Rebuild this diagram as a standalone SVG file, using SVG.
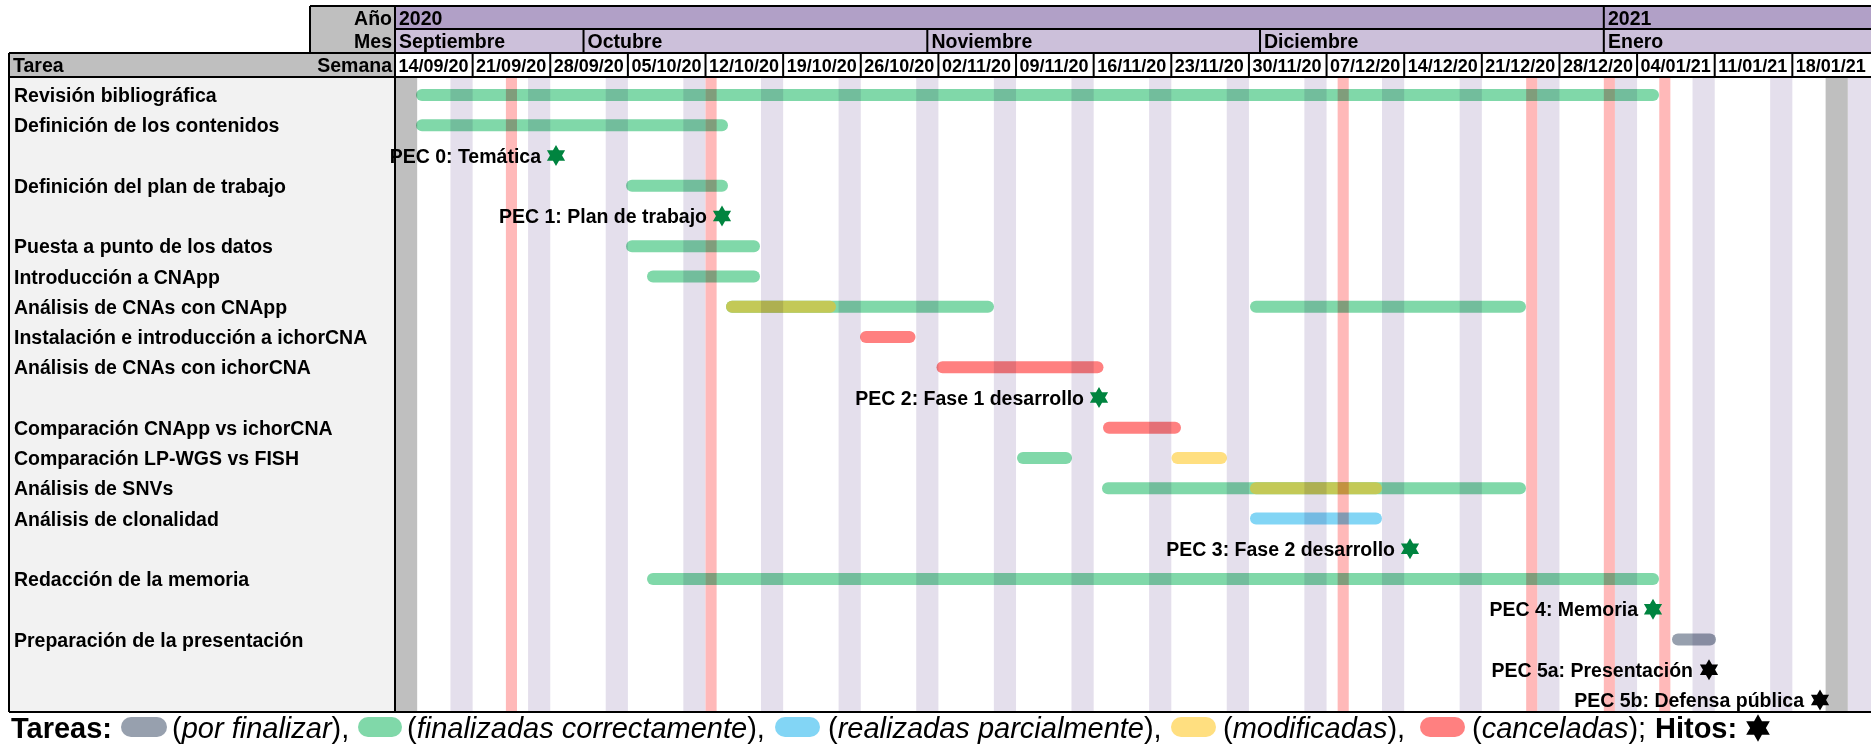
<svg xmlns="http://www.w3.org/2000/svg" xmlns:xlink="http://www.w3.org/1999/xlink" width="1871" height="748" viewBox="0 0 1871 748">
<style>
text{font-family:"Liberation Sans",Arial,sans-serif;fill:#000}
.b{font-weight:bold;font-size:19.5px}
.wk{font-weight:bold;font-size:18px}
.end{text-anchor:end}
.leg{font-size:29px}
.legb{font-size:29px;font-weight:bold}
.it{font-style:italic}
.ln{stroke:#000;stroke-width:2;fill:none}
.lav{fill:#E4DFEC}
.hol{fill:#FFB9B9}
.gcol{fill:#BFBFBF}
.bars{mix-blend-mode:multiply}
.green{fill:#80D8A9}
.olive{fill:#C3C957}
.red{fill:#FF8080}
.yellow{fill:#FFDF80}
.blue{fill:#82D5F5}
.grey{fill:#97A0AE}
.done{fill:#00843F}
.todo{fill:#000}
</style>
<defs>
<path id="star" d="M0,-10.5 L3.03,-5.25 L9.09,-5.25 L6.06,0 L9.09,5.25 L3.03,5.25 L0,10.5 L-3.03,5.25 L-9.09,5.25 L-6.06,0 L-9.09,-5.25 L-3.03,-5.25Z"/>
</defs>
<rect x="0" y="0" width="1871" height="748" fill="#fff"/>

<g id="background">
<rect x="9" y="77" width="386" height="635" fill="#F2F2F2"/>
<rect x="395" y="77" width="1476" height="635" fill="#fff"/>
<g class="lav">
<rect x="450.45" y="77" width="22.18" height="635"/>
<rect x="528.08" y="77" width="22.18" height="635"/>
<rect x="605.71" y="77" width="22.18" height="635"/>
<rect x="683.34" y="77" width="22.18" height="635"/>
<rect x="760.97" y="77" width="22.18" height="635"/>
<rect x="838.60" y="77" width="22.18" height="635"/>
<rect x="916.23" y="77" width="22.18" height="635"/>
<rect x="993.86" y="77" width="22.18" height="635"/>
<rect x="1071.49" y="77" width="22.18" height="635"/>
<rect x="1149.12" y="77" width="22.18" height="635"/>
<rect x="1226.75" y="77" width="22.18" height="635"/>
<rect x="1304.38" y="77" width="22.18" height="635"/>
<rect x="1382.01" y="77" width="22.18" height="635"/>
<rect x="1459.64" y="77" width="22.18" height="635"/>
<rect x="1537.27" y="77" width="22.18" height="635"/>
<rect x="1614.90" y="77" width="22.18" height="635"/>
<rect x="1692.53" y="77" width="22.18" height="635"/>
<rect x="1770.16" y="77" width="22.18" height="635"/>
<rect x="1847.79" y="77" width="23.21" height="635"/>
</g>
<g class="hol">
<rect x="505.9" y="77" width="11.09" height="635"/>
<rect x="705.52" y="77" width="11.09" height="635"/>
<rect x="1337.65" y="77" width="11.09" height="635"/>
<rect x="1526.18" y="77" width="11.09" height="635"/>
<rect x="1603.81" y="77" width="11.09" height="635"/>
<rect x="1659.26" y="77" width="11.09" height="635"/>
</g>
<g class="gcol">
<rect x="395" y="77" width="22.18" height="635"/>
<rect x="1825.61" y="77" width="22.18" height="635"/>
</g>
</g>

<g id="header">
<rect x="310" y="6" width="85" height="47" fill="#BFBFBF"/>
<rect x="9" y="53" width="386" height="24" fill="#BFBFBF"/>
<rect x="395" y="6" width="1476" height="23" fill="#B1A0C7"/>
<rect x="395" y="29" width="1476" height="24" fill="#CCC0DA"/>
<rect x="395" y="53" width="1476" height="24" fill="#fff"/>
<path class="ln" d="M310,6 H1871 M395,29 H1871 M9,53 H1871 M9,77 H1871 M9,712 H1871 M310,6 V53 M9,53 V712 M395,6 V712 M1603.81,6 V53 M583.53,29 V53 M927.32,29 V53 M1260.02,29 V53"/>
<path class="ln" d="M472.63,53 V77 M550.26,53 V77 M627.89,53 V77 M705.52,53 V77 M783.15,53 V77 M860.78,53 V77 M938.41,53 V77 M1016.04,53 V77 M1093.67,53 V77 M1171.30,53 V77 M1248.93,53 V77 M1326.56,53 V77 M1404.19,53 V77 M1481.82,53 V77 M1559.45,53 V77 M1637.08,53 V77 M1714.71,53 V77 M1792.34,53 V77"/>
<text class="b end" x="392" y="24.5">Año</text>
<text class="b end" x="392" y="48">Mes</text>
<text class="b" x="13" y="72">Tarea</text>
<text class="b end" x="392" y="72">Semana</text>
<text class="b" x="399" y="24.5">2020</text>
<text class="b" x="1608" y="24.5">2021</text>
<text class="b" x="399" y="48">Septiembre</text>
<text class="b" x="587.5" y="48">Octubre</text>
<text class="b" x="931.5" y="48">Noviembre</text>
<text class="b" x="1264" y="48">Diciembre</text>
<text class="b" x="1608" y="48">Enero</text>
<g class="wk">
<text class="wk" x="398.5" y="71.5">14/09/20</text>
<text class="wk" x="476.1" y="71.5">21/09/20</text>
<text class="wk" x="553.8" y="71.5">28/09/20</text>
<text class="wk" x="631.4" y="71.5">05/10/20</text>
<text class="wk" x="709" y="71.5">12/10/20</text>
<text class="wk" x="786.7" y="71.5">19/10/20</text>
<text class="wk" x="864.3" y="71.5">26/10/20</text>
<text class="wk" x="941.9" y="71.5">02/11/20</text>
<text class="wk" x="1019.5" y="71.5">09/11/20</text>
<text class="wk" x="1097.2" y="71.5">16/11/20</text>
<text class="wk" x="1174.8" y="71.5">23/11/20</text>
<text class="wk" x="1252.4" y="71.5">30/11/20</text>
<text class="wk" x="1330.1" y="71.5">07/12/20</text>
<text class="wk" x="1407.7" y="71.5">14/12/20</text>
<text class="wk" x="1485.3" y="71.5">21/12/20</text>
<text class="wk" x="1563" y="71.5">28/12/20</text>
<text class="wk" x="1640.6" y="71.5">04/01/21</text>
<text class="wk" x="1718.2" y="71.5">11/01/21</text>
<text class="wk" x="1795.8" y="71.5">18/01/21</text>
</g>
</g>

<g id="task-revision">
<text class="b" x="14" y="102">Revisión bibliográfica</text>
<g class="bars"><rect class="green" x="416" y="89" width="1243" height="12" rx="6"/></g>
</g>
<g id="task-contenidos">
<text class="b" x="14" y="132.25">Definición de los contenidos</text>
<g class="bars"><rect class="green" x="416" y="119.25" width="312" height="12" rx="6"/></g>
</g>
<g id="milestone-pec0">
<text class="b end" x="541" y="162.5">PEC 0: Temática</text>
<use xlink:href="#star" href="#star" x="556" y="155.5" class="done"/>
</g>
<g id="task-plan">
<text class="b" x="14" y="192.75">Definición del plan de trabajo</text>
<g class="bars"><rect class="green" x="626" y="179.75" width="102" height="12" rx="6"/></g>
</g>
<g id="milestone-pec1">
<text class="b end" x="707" y="223">PEC 1: Plan de trabajo</text>
<use xlink:href="#star" href="#star" x="722" y="216" class="done"/>
</g>
<g id="task-puesta">
<text class="b" x="14" y="253.25">Puesta a punto de los datos</text>
<g class="bars"><rect class="green" x="626" y="240.25" width="134" height="12" rx="6"/></g>
</g>
<g id="task-intro-cnapp">
<text class="b" x="14" y="283.5">Introducción a CNApp</text>
<g class="bars"><rect class="green" x="647" y="270.5" width="113" height="12" rx="6"/></g>
</g>
<g id="task-cnas-cnapp">
<text class="b" x="14" y="313.75">Análisis de CNAs con CNApp</text>
<g class="bars">
<rect class="green" x="726" y="300.75" width="268" height="12" rx="6"/>
<rect class="olive" x="726" y="300.75" width="110" height="12" rx="6"/>
<rect class="green" x="1250" y="300.75" width="276" height="12" rx="6"/>
</g>
</g>
<g id="task-instalacion-ichor">
<text class="b" x="14" y="344">Instalación e introducción a ichorCNA</text>
<g class="bars"><rect class="red" x="860" y="331" width="55.5" height="12" rx="6"/></g>
</g>
<g id="task-cnas-ichor">
<text class="b" x="14" y="374.25">Análisis de CNAs con ichorCNA</text>
<g class="bars"><rect class="red" x="936.5" y="361.25" width="167" height="12" rx="6"/></g>
</g>
<g id="milestone-pec2">
<text class="b end" x="1084" y="404.5">PEC 2: Fase 1 desarrollo</text>
<use xlink:href="#star" href="#star" x="1099" y="397.5" class="done"/>
</g>
<g id="task-comp-cnapp-ichor">
<text class="b" x="14" y="434.75">Comparación CNApp vs ichorCNA</text>
<g class="bars"><rect class="red" x="1103" y="421.75" width="78" height="12" rx="6"/></g>
</g>
<g id="task-comp-lpwgs-fish">
<text class="b" x="14" y="465">Comparación LP-WGS vs FISH</text>
<g class="bars">
<rect class="green" x="1017" y="452" width="55" height="12" rx="6"/>
<rect class="yellow" x="1171.5" y="452" width="55.5" height="12" rx="6"/>
</g>
</g>
<g id="task-snvs">
<text class="b" x="14" y="495.25">Análisis de SNVs</text>
<g class="bars">
<rect class="green" x="1102" y="482.25" width="424" height="12" rx="6"/>
<rect class="olive" x="1250" y="482.25" width="132" height="12" rx="6"/>
</g>
</g>
<g id="task-clonalidad">
<text class="b" x="14" y="525.5">Análisis de clonalidad</text>
<g class="bars"><rect class="blue" x="1250" y="512.5" width="132" height="12" rx="6"/></g>
</g>
<g id="milestone-pec3">
<text class="b end" x="1395" y="555.75">PEC 3: Fase 2 desarrollo</text>
<use xlink:href="#star" href="#star" x="1410" y="548.75" class="done"/>
</g>
<g id="task-redaccion">
<text class="b" x="14" y="586">Redacción de la memoria</text>
<g class="bars"><rect class="green" x="647" y="573" width="1012" height="12" rx="6"/></g>
</g>
<g id="milestone-pec4">
<text class="b end" x="1638" y="616.25">PEC 4: Memoria</text>
<use xlink:href="#star" href="#star" x="1653" y="609.25" class="done"/>
</g>
<g id="task-presentacion">
<text class="b" x="14" y="646.5">Preparación de la presentación</text>
<g class="bars"><rect class="grey" x="1672" y="633.5" width="44" height="12" rx="6"/></g>
</g>
<g id="milestone-pec5a">
<text class="b end" x="1693" y="676.75">PEC 5a: Presentación</text>
<use xlink:href="#star" href="#star" x="1709" y="669.75" class="todo"/>
</g>
<g id="milestone-pec5b">
<text class="b end" x="1804" y="707">PEC 5b: Defensa pública</text>
<use xlink:href="#star" href="#star" x="1820" y="700" class="todo"/>
</g>

<g id="legend">
<text class="legb" x="11" y="738">Tareas:</text>
<rect class="grey" x="121" y="717" width="46" height="20" rx="10"/>
<text class="leg" x="172" y="738">(<tspan class="it">por finalizar</tspan>),</text>
<rect class="green" x="358" y="717" width="44" height="20" rx="10"/>
<text class="leg" x="407" y="738">(<tspan class="it">finalizadas correctamente</tspan>),</text>
<rect class="blue" x="775" y="717" width="45" height="20" rx="10"/>
<text class="leg" x="828" y="738">(<tspan class="it">realizadas parcialmente</tspan>),</text>
<rect class="yellow" x="1171" y="717" width="45" height="20" rx="10"/>
<text class="leg" x="1223" y="738">(<tspan class="it">modificadas</tspan>),</text>
<rect class="red" x="1420" y="717" width="45" height="20" rx="10"/>
<text class="leg" x="1472" y="738">(<tspan class="it">canceladas</tspan>);</text>
<text class="legb" x="1655" y="738">Hitos:</text>
<use xlink:href="#star" href="#star" transform="translate(1758,728) scale(1.3)" class="todo"/>
</g>
</svg>
